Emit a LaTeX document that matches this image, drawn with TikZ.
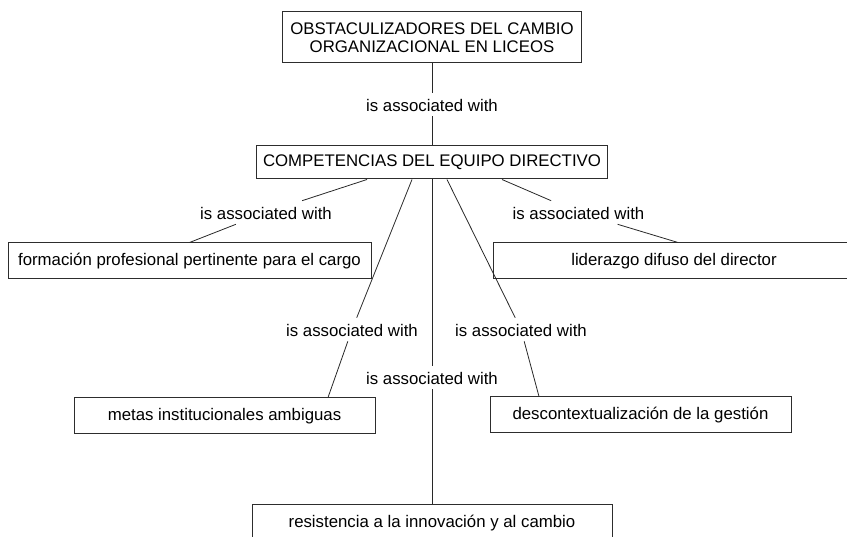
\documentclass[tikz,border=0pt]{standalone}
\usepackage{fontspec}
\setmainfont{Liberation Sans}
\usepackage{tikz}
\definecolor{box_gray}{RGB}{45,45,45}
\definecolor{edge_gray}{RGB}{40,40,40}

\begin{document}
\begin{tikzpicture}[x=1pt,y=-1pt,semithick]
    \tikzstyle{concept}=[draw=box_gray, line width=1pt, rectangle, inner sep=0pt, minimum height=36pt, fill=white, text=black, align=center, font=\fontsize{16.8}{17.5}\selectfont]
    \tikzstyle{linkphrase}=[text=black, anchor=base, inner sep=0pt, inner xsep=4pt, text height=19pt, text depth=4pt, font=\fontsize{16.8}{17.5}\selectfont]
    \tikzstyle{link}=[draw=edge_gray, line width=0.8pt]

    \useasboundingbox (0,0) rectangle (847,537);
    \clip (0,0) rectangle (847,537);

    \node[concept, minimum width=299pt, minimum height=51pt] (obst) at (432,37.5) {OBSTACULIZADORES DEL CAMBIO\\ORGANIZACIONAL EN LICEOS};
    \node[concept, minimum width=351pt, minimum height=33pt] (comp) at (432,162.5) {COMPETENCIAS DEL EQUIPO DIRECTIVO};
    \node[concept, minimum width=363pt] (form)  at (189.5,261) {formación profesional pertinente para el cargo};
    \node[concept, minimum width=362pt] (lid)   at (674,261)   {liderazgo difuso del director};
    \node[concept, minimum width=301pt] (metas) at (224.5,416) {metas institucionales ambiguas};
    \node[concept, minimum width=301pt] (desc)  at (640.5,415) {descontextualización de la gestión};
    \node[concept, minimum width=360pt] (res)   at (432,523)   {resistencia a la innovación y al cambio};

    \node[linkphrase] (l1) at (432,112)   {is associated with};
    \node[linkphrase] (l2) at (266,220)   {is associated with};
    \node[linkphrase] (l3) at (578.5,220) {is associated with};
    \node[linkphrase] (l4) at (352,337)   {is associated with};
    \node[linkphrase] (l5) at (521,337)   {is associated with};
    \node[linkphrase] (l6) at (432,385)   {is associated with};

    \draw[link] (obst) -- (l1) -- (comp);
    \draw[link] ([xshift=-65pt]comp.south) -- (l2) -- (form.north);
    \draw[link] ([xshift=70pt]comp.south) -- (l3) -- ([xshift=4pt]lid.north);
    \draw[link] ([xshift=-20pt]comp.south) -- (l4) -- ([xshift=103.5pt]metas.north);
    \draw[link] ([xshift=15pt]comp.south) -- (l5) -- ([xshift=-101.5pt]desc.north);
    \draw[link] (comp) -- (l6) -- (res);
\end{tikzpicture}
\end{document}
